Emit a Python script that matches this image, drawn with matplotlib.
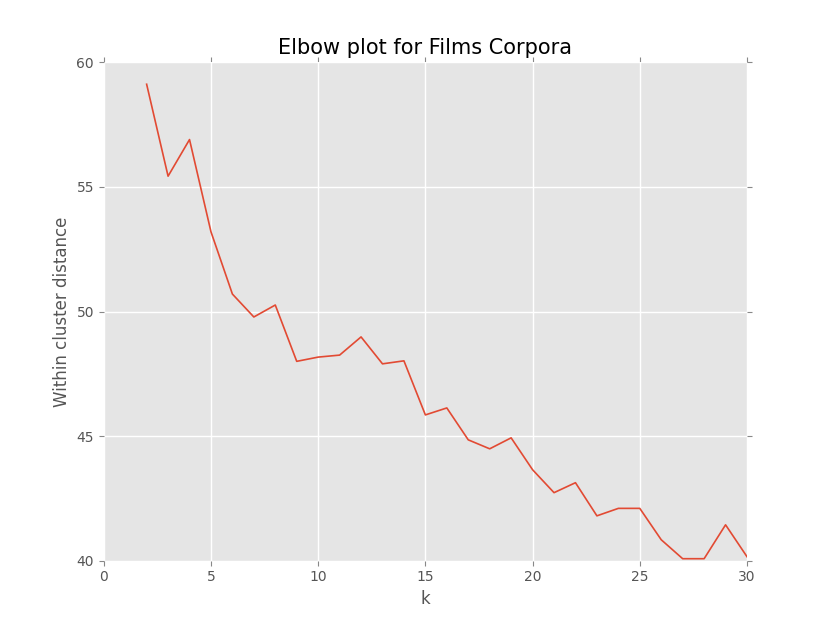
import matplotlib
matplotlib.use("Agg")
import matplotlib.pyplot as plt

k_values = list(range(2, 31))
distances = [59.12, 55.43, 56.9, 53.2, 50.7, 49.78, 50.26, 48.0, 48.17, 48.25,
             48.98, 47.9, 48.02, 45.85, 46.13, 44.85, 44.49, 44.93, 43.65, 42.73,
             43.13, 41.8, 42.1, 42.1, 40.84, 40.08, 40.08, 41.44, 40.16]
x_ticks = [0, 5, 10, 15, 20, 25, 30]
y_ticks = [40, 45, 50, 55, 60]

plt.rcParams['font.family'] = ['DejaVu Sans']
plt.rcParams['font.size'] = 10

fig = plt.figure(figsize=(8.3, 6.23), dpi=100)
ax = fig.add_axes([0.125, 0.1, 0.775, 0.8])
ax.set_facecolor('#E5E5E5')
for s in ax.spines.values():
    s.set_visible(False)
ax.grid(True, color='white', linewidth=1, linestyle='-')
ax.set_axisbelow(True)

ax.plot(k_values, distances, color='#E24A33', linewidth=1.2)

ax.set_xlim(0, 30)
ax.set_ylim(40, 60)
ax.set_xticks(x_ticks)
ax.set_yticks(y_ticks)
ax.tick_params(direction='out', length=3.5, width=0.8, color='#888888',
               labelcolor='#555555', labelsize=10,
               top=True, right=True)

ax.set_xlabel('k', fontsize=12, color='#555555')
ax.set_ylabel('Within cluster distance', fontsize=12, color='#555555')
ax.set_title('Elbow plot for Films Corpora', fontsize=15, color='black')

fig.savefig('out.png', dpi=100)
